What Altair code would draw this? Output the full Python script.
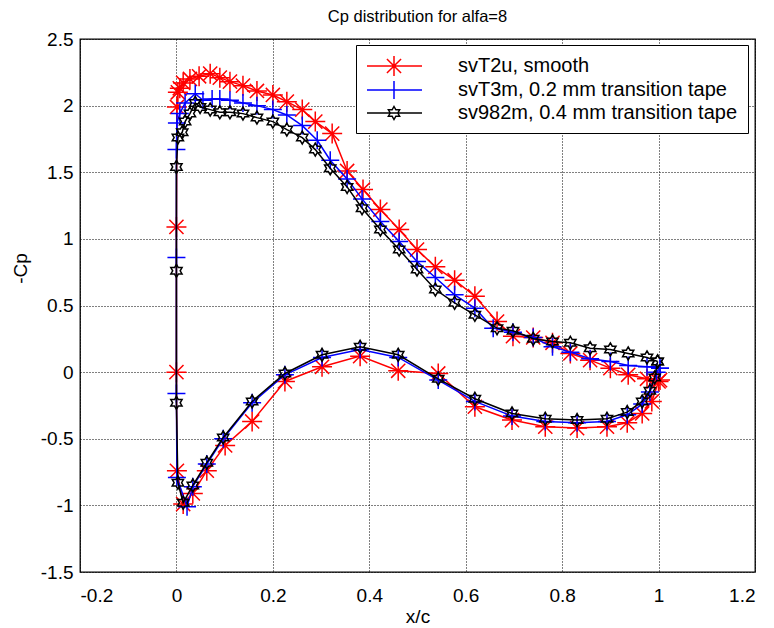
import math
import altair as alt
import pandas as pd

# ---------------- data ----------------
names = ["svT2u, smooth", "svT3m, 0.2 mm transition tape", "sv982m, 0.4 mm transition tape"]
colors = ["#ff0000", "#0000ff", "#000000"]

# svT2u, smooth  (upper surface LE->TE, lower surface LE->TE)
red_up_x = [0.000, 0.001, 0.003, 0.007, 0.014, 0.028, 0.047, 0.070, 0.090, 0.111, 0.138, 0.167, 0.200,
            0.229, 0.261, 0.288, 0.323, 0.354, 0.387, 0.423, 0.462, 0.499, 0.537, 0.577, 0.619, 0.665,
            0.698, 0.740, 0.780, 0.817, 0.858, 0.900, 0.937, 0.976, 1.003]
red_up_y = [1.09, 1.99, 2.10, 2.13, 2.17, 2.20, 2.22, 2.24, 2.21, 2.18, 2.15, 2.11, 2.08,
            2.03, 1.97, 1.88, 1.79, 1.51, 1.37, 1.22, 1.07, 0.92, 0.79, 0.69, 0.57, 0.38,
            0.27, 0.26, 0.22, 0.14, 0.09, 0.03, -0.02, -0.05, -0.06]
red_lo_x = [0.000, 0.001, 0.014, 0.034, 0.063, 0.101, 0.157, 0.225, 0.302, 0.381, 0.460, 0.543,
            0.619, 0.696, 0.765, 0.831, 0.893, 0.935, 0.966, 0.986, 1.000]
red_lo_y = [0.00, -0.74, -0.99, -0.91, -0.74, -0.55, -0.37, -0.07, 0.04, 0.12, 0.01, -0.01,
            -0.26, -0.36, -0.41, -0.42, -0.41, -0.38, -0.31, -0.22, -0.07]

# svT3m, 0.2 mm transition tape
blue_up_x = [0.000, 0.000, 0.001, 0.007, 0.018, 0.039, 0.055, 0.074, 0.090, 0.111, 0.138, 0.167, 0.200,
             0.229, 0.261, 0.292, 0.319, 0.354, 0.385, 0.423, 0.462, 0.499, 0.537, 0.577, 0.619, 0.657,
             0.698, 0.740, 0.780, 0.817, 0.858, 0.900, 0.937, 0.976, 1.003]
blue_up_y = [0.86, 1.67, 1.87, 1.94, 2.02, 2.09, 2.04, 2.05, 2.05, 2.04, 2.02, 2.00, 1.97,
             1.93, 1.85, 1.74, 1.59, 1.45, 1.30, 1.13, 0.98, 0.83, 0.71, 0.58, 0.48, 0.33,
             0.30, 0.26, 0.19, 0.15, 0.10, 0.08, 0.05, 0.04, 0.03]
blue_lo_x = [0.000, 0.001, 0.022, 0.034, 0.063, 0.097, 0.157, 0.225, 0.302, 0.381, 0.460, 0.543,
             0.619, 0.696, 0.765, 0.831, 0.893, 0.935, 0.966, 0.982, 0.996, 1.003]
blue_lo_y = [-0.16, -0.79, -1.01, -0.86, -0.69, -0.50, -0.23, -0.02, 0.11, 0.17, 0.11, -0.06,
             -0.22, -0.33, -0.37, -0.38, -0.37, -0.32, -0.24, -0.15, 0.00, 0.03]

# sv982m, 0.4 mm transition tape
black_up_x = [0.000, 0.000, 0.003, 0.012, 0.018, 0.028, 0.039, 0.049, 0.070, 0.090, 0.111, 0.138, 0.167,
              0.200, 0.229, 0.261, 0.288, 0.319, 0.354, 0.385, 0.423, 0.462, 0.499, 0.537, 0.577, 0.619,
              0.665, 0.698, 0.740, 0.780, 0.817, 0.858, 0.900, 0.937, 0.976, 0.998]
black_up_y = [0.76, 1.54, 1.76, 1.80, 1.88, 1.94, 2.02, 1.99, 1.97, 1.95, 1.95, 1.94, 1.91,
              1.88, 1.82, 1.76, 1.67, 1.53, 1.39, 1.23, 1.07, 0.92, 0.77, 0.62, 0.52, 0.43,
              0.33, 0.31, 0.25, 0.23, 0.22, 0.18, 0.17, 0.14, 0.11, 0.08]
black_lo_x = [0.000, 0.003, 0.014, 0.034, 0.063, 0.097, 0.157, 0.225, 0.302, 0.381, 0.460, 0.543,
              0.619, 0.696, 0.765, 0.831, 0.893, 0.935, 0.966, 0.982, 0.992, 0.998]
black_lo_y = [-0.23, -0.83, -0.98, -0.85, -0.68, -0.49, -0.22, -0.01, 0.13, 0.19, 0.13, -0.05,
              -0.20, -0.31, -0.35, -0.36, -0.35, -0.30, -0.22, -0.14, -0.04, 0.08]

x_ticks = [-0.2, 0, 0.2, 0.4, 0.6, 0.8, 1, 1.2]
y_ticks = [-1.5, -1, -0.5, 0, 0.5, 1, 1.5, 2, 2.5]

FONT = "Liberation Sans"


def frame(ux, uy, lx, ly, name):
    xs = list(reversed(ux)) + list(lx)
    ys = list(reversed(uy)) + list(ly)
    return pd.DataFrame({"x": xs, "y": ys, "i": range(len(xs)), "series": name})


# ---------------- marker shapes ----------------
def fmt(v):
    return f"{v:.4f}".rstrip("0").rstrip(".")


def segs_path(segs, s=1.0, dx=0.0):
    return "".join(f"M{fmt(a*s+dx)},{fmt(b*s)}L{fmt(c*s+dx)},{fmt(d*s)}" for a, b, c, d in segs)


k = math.sqrt(0.5)
ast_segs = [(-1, 0, 1, 0), (0, -1, 0, 1), (-k, -k, k, k), (-k, k, k, -k)]
plus_segs = [(-1, 0, 1, 0), (0, -1, 0, 1)]
hex_pts = []
for j in range(12):
    ang = math.radians(-90 + 30 * j)
    r = 1.0 if j % 2 == 0 else 1 / math.sqrt(3)
    hex_pts.append((r * math.cos(ang), r * math.sin(ang)))


def poly_path(pts, s=1.0, dx=0.0):
    return "M" + "L".join(f"{fmt(a*s+dx)},{fmt(b*s)}" for a, b in pts) + "Z"


ast_path = segs_path(ast_segs)
plus_path = segs_path(plus_segs)
hex_path = poly_path(hex_pts)

# legend symbols: horizontal line through the marker
LINE = "M-1,0L4.5,0"
leg_paths = [
    LINE + segs_path(ast_segs, 1.0, 1.7),
    LINE + segs_path(plus_segs, 0.9, 1.7),
    LINE + poly_path(hex_pts, 0.65, 1.7),
]

xs = alt.Scale(domain=[-0.2, 1.2], nice=False, zero=False)
ys = alt.Scale(domain=[-1.5, 2.5], nice=False, zero=False)

X = alt.X("x:Q", scale=xs, title="x/c",
          axis=alt.Axis(values=x_ticks, labelExpr="'' + datum.value"))
Y = alt.Y("y:Q", scale=ys, title="-Cp",
          axis=alt.Axis(values=y_ticks, labelExpr="'' + datum.value", titleY=229))

series = [
    (red_up_x, red_up_y, red_lo_x, red_lo_y, colors[0], ast_path, 400),
    (blue_up_x, blue_up_y, blue_lo_x, blue_lo_y, colors[1], plus_path, 324),
    (black_up_x, black_up_y, black_lo_x, black_lo_y, colors[2], hex_path, 169),
]

layers = []
for (ux, uy, lx, ly, col, shp, sz), nm in zip(series, names):
    df = frame(ux, uy, lx, ly, nm)
    base = alt.Chart(df)
    layers.append(base.mark_line(color=col, strokeWidth=1.5).encode(x=X, y=Y, order="i:Q"))
    layers.append(base.mark_point(shape=shp, filled=False, color=col, size=sz,
                                  strokeWidth=1.5, opacity=1).encode(x=X, y=Y))

legend_df = pd.DataFrame({"series": names, "x": [None] * 3, "y": [None] * 3})
leg = alt.Legend(orient="none", legendX=276, legendY=6, title=None,
                 strokeColor="black", fillColor="white", padding=10,
                 labelFont=FONT, labelFontSize=20, labelColor="black", labelOffset=70,
                 labelLimit=500, rowPadding=-2.5, symbolSize=400, symbolStrokeWidth=1.5)
legend_layer = alt.Chart(legend_df).transform_filter("false").mark_point(
    filled=False, strokeWidth=1.5, opacity=1).encode(
    x=alt.X("x:Q", scale=xs),
    y=alt.Y("y:Q", scale=ys),
    color=alt.Color("series:N", scale=alt.Scale(domain=names, range=colors), legend=leg),
    shape=alt.Shape("series:N", scale=alt.Scale(domain=names, range=leg_paths), legend=leg),
)
layers.append(legend_layer)

chart = alt.layer(*layers).properties(
    width=675, height=533,
    title=alt.TitleParams("Cp distribution for alfa=8", font=FONT, fontSize=16.5,
                          fontWeight="normal", color="black", offset=5, anchor="middle"),
    autosize=alt.AutoSizeParams(type="none"),
    padding={"left": 72, "top": 31, "right": 11, "bottom": 56},
).configure_view(stroke="black", strokeWidth=1.3).configure_axis(
    grid=True, gridColor="black", gridDash=[1, 2], gridOpacity=1, gridWidth=1,
    domain=False, ticks=False,
    labelFont=FONT, labelFontSize=19, labelColor="black", labelPadding=7,
    titleFont=FONT, titleFontSize=19, titleFontWeight="normal", titleColor="black",
).configure_axisX(labelPadding=14, titlePadding=2).configure_axisY(titlePadding=10)

chart.save("out.html", embed_options={"renderer": "svg", "actions": False})
